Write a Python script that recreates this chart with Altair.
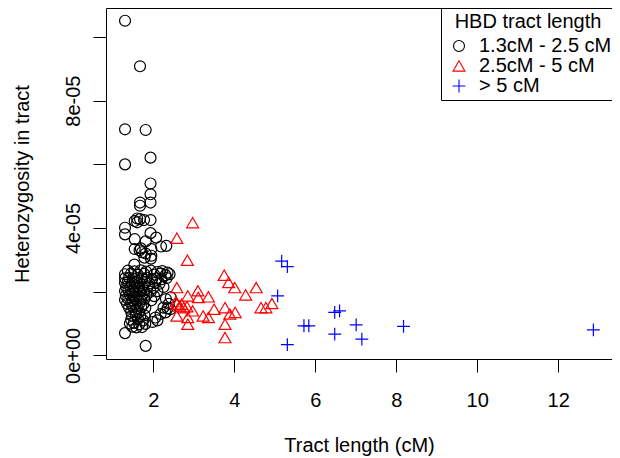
import altair as alt
import pandas as pd

FONT = "Liberation Sans"

groups = ["1.3cM - 2.5 cM", "2.5cM - 5 cM", "> 5 cM"]
group_colors = ["black", "red", "blue"]
group_shapes = ["circle", "triangle-up", "M-1,0L1,0M0,-1L0,1"]
group_sizes = [120, 165, 190]

# Tract length (cM) and heterozygosity (in units of 1e-05)
black_len = [1.30, 1.67, 1.30, 1.81, 1.93, 1.30, 1.93, 1.93, 1.93, 1.67, 1.67,
             1.54, 1.60, 1.67, 1.77, 1.93, 1.60,
             1.30, 1.30, 1.54, 1.81, 1.93, 2.07, 2.19, 2.32,
             1.54, 1.66, 1.72, 1.81, 1.95, 1.95, 1.69,
             1.53, 1.78, 1.94,
             1.37, 1.53, 1.69, 1.82, 1.94, 2.10, 2.22, 2.35,
             1.30, 1.45, 1.62, 1.77, 2.02, 2.18, 2.30, 2.40,
             1.30, 1.40, 1.50, 1.60, 1.72, 1.84, 1.97, 2.08, 2.20, 2.33,
             1.30, 1.37, 1.47, 1.58, 1.66, 1.79, 1.90, 2.05, 2.15,
             1.33, 1.43, 1.53, 1.63, 1.73, 1.86, 2.00, 2.25,
             1.30, 1.38, 1.48, 1.57, 1.67, 1.77, 1.93, 2.10,
             1.32, 1.42, 1.52, 1.62, 1.72, 1.83, 2.02,
             1.30, 1.38, 1.48, 1.58, 1.68, 1.78, 1.95, 2.31, 2.43,
             1.35, 1.45, 1.55, 1.65, 1.75, 2.38,
             1.40, 1.50, 1.60, 1.70, 1.80, 2.25, 2.35,
             1.45, 1.55, 1.65, 2.30, 2.42,
             1.47, 1.57, 1.68, 1.78, 2.05, 2.18,
             1.45, 1.62, 1.75, 1.98, 2.10,
             1.42, 1.52, 1.65, 1.80,
             1.48, 1.58, 1.72,
             1.30, 1.81]
black_het = [10.51, 9.08, 7.10, 7.08, 6.21, 6.00, 5.40, 5.06, 4.80, 4.80, 4.70,
             4.22, 4.30, 4.28, 4.25, 4.25, 4.18,
             4.01, 3.80, 3.65, 3.58, 3.84, 3.70, 3.42, 3.44,
             3.34, 3.30, 3.24, 3.20, 3.13, 3.34, 3.36,
             2.85, 3.07, 3.04,
             2.66, 2.64, 2.67, 2.63, 2.66, 2.62, 2.65, 2.60,
             2.55, 2.57, 2.53, 2.56, 2.54, 2.57, 2.52, 2.55,
             2.42, 2.44, 2.40, 2.43, 2.41, 2.44, 2.40, 2.42, 2.39, 2.43,
             2.28, 2.30, 2.26, 2.29, 2.27, 2.30, 2.26, 2.28, 2.25,
             2.15, 2.17, 2.13, 2.16, 2.14, 2.17, 2.12, 2.15,
             2.02, 2.04, 2.00, 2.03, 2.01, 2.04, 2.00, 2.02,
             1.88, 1.90, 1.86, 1.89, 1.87, 1.90, 1.86,
             1.75, 1.77, 1.73, 1.76, 1.74, 1.77, 1.73, 1.77, 1.82,
             1.62, 1.64, 1.60, 1.63, 1.61, 1.62,
             1.50, 1.52, 1.48, 1.51, 1.49, 1.50, 1.48,
             1.38, 1.40, 1.36, 1.35, 1.45,
             1.25, 1.27, 1.23, 1.26, 1.19, 1.30,
             1.12, 1.14, 1.10, 1.05, 1.10,
             1.00, 1.02, 0.98, 0.99,
             0.90, 0.88, 0.89,
             0.70, 0.30]

red_len = [2.97, 2.58, 2.84, 3.75, 3.86, 4.01, 4.28, 4.54, 2.58, 2.85,
           3.10, 3.11, 3.36, 2.58, 2.70, 2.83, 2.97, 2.58, 2.85, 3.23,
           3.36, 3.50, 3.77, 3.89, 4.02, 3.77, 3.77, 4.66, 4.78, 4.93,
           2.56, 2.75, 2.85, 2.65]
red_het = [4.17, 3.68, 2.99, 2.52, 2.29, 2.13, 1.90, 2.13, 2.13, 1.87,
           2.03, 1.82, 1.84, 1.61, 1.61, 1.53, 1.40, 1.24, 0.98, 1.24,
           1.19, 1.45, 1.50, 1.30, 1.35, 0.98, 0.56, 1.50, 1.50, 1.63,
           1.69, 1.50, 1.19, 1.55]

blue_len = [5.17, 5.31, 5.07, 6.48, 6.60, 5.72, 5.84, 5.31, 6.48, 7.01, 7.15, 8.18, 12.87]
blue_het = [2.96, 2.79, 1.87, 1.35, 1.40, 0.93, 0.93, 0.34, 0.67, 0.96, 0.51, 0.91, 0.80]

x_ticks = [2, 4, 6, 8, 10, 12]
y_ticks = [0, 2e-05, 4e-05, 6e-05, 8e-05, 1e-04]
y_tick_labels = ["0e+00", "", "4e-05", "", "8e-05", ""]

rows = []
for lens, hets, g in [(black_len, black_het, groups[0]),
                      (red_len, red_het, groups[1]),
                      (blue_len, blue_het, groups[2])]:
    for a, b in zip(lens, hets):
        rows.append({"len": a, "het": b * 1e-05, "grp": g})
df = pd.DataFrame(rows)
df["ord"] = range(len(df))

expr = "''"
for v, lab in zip(reversed(y_ticks), reversed(y_tick_labels)):
    expr = f"abs(datum.value - {v}) < 1e-9 ? '{lab}' : ({expr})"

W, H = 506, 351

leg = alt.Legend(
    title="HBD tract length", orient="none", legendX=W - 171, legendY=0,
    direction="vertical", strokeColor="black", fillColor="white", padding=4,
    titleFontSize=20, titleFont=FONT, titleFontWeight="normal", titleColor="black",
    titleAnchor="middle", titlePadding=4, titleLimit=400,
    labelFontSize=20, labelFont=FONT, labelColor="black", labelLimit=400,
    symbolOffset=4, labelOffset=10, rowPadding=-1, symbolStrokeWidth=1.1,
    cornerRadius=0,
)

chart = alt.Chart(df).mark_point(filled=False, strokeWidth=1.2, opacity=1).encode(
    x=alt.X("len:Q",
            scale=alt.Scale(domain=[0.83, 13.33], nice=False, zero=False),
            axis=alt.Axis(values=x_ticks, title="Tract length (cM)",
                          labelBaseline="alphabetic", labelPadding=34, labelAngle=0,
                          titleBaseline="alphabetic", titleY=92)),
    y=alt.Y("het:Q",
            scale=alt.Scale(domain=[-1.13e-06, 1.091e-04], nice=False, zero=False),
            axis=alt.Axis(values=y_ticks, labelExpr=expr, labelAngle=270,
                          labelAlign="center", labelBaseline="alphabetic", labelPadding=14,
                          title="Heterozygosity in tract", titleAngle=270,
                          titleAlign="center", titleBaseline="alphabetic",
                          titleX=-78, titleY=H / 2)),
    color=alt.Color("grp:N", scale=alt.Scale(domain=groups, range=group_colors), legend=leg),
    shape=alt.Shape("grp:N", scale=alt.Scale(domain=groups, range=group_shapes), legend=leg),
    size=alt.Size("grp:N", scale=alt.Scale(domain=groups, range=group_sizes), legend=leg),
    order=alt.Order("ord:Q"),
).properties(
    width=W, height=H,
    padding={"left": 98, "top": 0, "right": 0, "bottom": 99},
    autosize="none",
).configure_view(
    stroke="black", strokeWidth=1
).configure_axis(
    domain=False, grid=False, tickColor="black", tickSize=13, tickWidth=1,
    labelColor="black", titleColor="black", labelFont=FONT, titleFont=FONT,
    labelFontSize=20, titleFontSize=20, titleFontWeight="normal",
    labelOverlap=False,
)

chart.save("out.html", embed_options={"renderer": "svg", "actions": False})
